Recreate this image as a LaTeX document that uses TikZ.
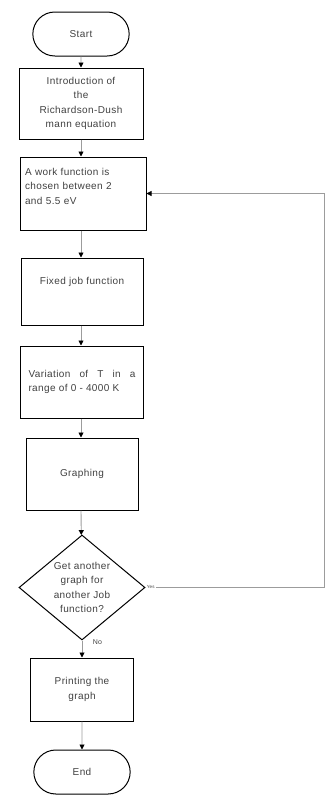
\documentclass[tikz,border=0pt]{standalone}
\usepackage{fontspec}
\setmainfont{Liberation Sans}[LetterSpace=4]
\usetikzlibrary{shapes.misc, positioning}
\usetikzlibrary{shapes.geometric, arrows.meta}
\definecolor{linegray}{HTML}{9c9c9c}
\definecolor{textgray}{HTML}{404040}
\tikzstyle{terminal} = [rounded rectangle, minimum width=103pt, minimum height=44pt, text centered, draw=black, line width=1pt, text=textgray, font=\fontsize{10}{14.5}\selectfont]
\tikzstyle{process} = [rectangle, minimum width=124pt, minimum height=72pt, text centered, draw=black, line width=1pt, align=center, text=textgray, font=\fontsize{10}{14.5}\selectfont]
\tikzstyle{decision} = [diamond, shape aspect=1.2, inner sep=-1.5pt, minimum width=126pt, minimum height=105pt, draw=black, line width=1pt, align=center, text=textgray, font=\fontsize{10}{14.5}\selectfont]
\tikzstyle{arrow} = [draw=linegray, line width=0.9pt, -{Triangle[width=5pt,length=5pt,color=black]}]
\tikzstyle{feedback} = [draw=linegray, line width=0.8pt, -{Triangle[width=5pt,length=5pt,color=black]}]

\begin{document}
\begin{tikzpicture}[x=1pt, y=-1pt, node distance=0pt]
    \useasboundingbox (0,0) rectangle (326,798);

    \node (start) [terminal] at (81,34) {Start};

    \node (intro) [process, below=11pt of start, minimum height=71pt]{Introduction of\\
    the\\
    Richardson-Dush\\
    mann equation};

    \node (work) [process, below=17pt of intro, xshift=2pt, minimum height=73pt, text width=116pt, inner xsep=5pt, align=left]{A work function is\\
    chosen between 2\\
    and 5.5 eV\\
    \mbox{}};

    \node (fixed) [process, below=27pt of work, xshift=-1pt, minimum width=122pt, minimum height=67pt]{Fixed job function\\[6pt]};

    \node (vary) [process, below=20pt of fixed, minimum width=123pt, text width=107pt, align=justify]{Variation of T in a\linebreak
    range of 0 - 4000 K};

    \node (graph) [process, below=19pt of vary, minimum width=112pt]{Graphing};

    \node (dec) [decision, below=24pt of graph]{Get another\\
    graph for\\
    another Job\\
    function?};

    \node (print) [process, below=17pt of dec, minimum width=103pt, minimum height=63pt]{Printing the\\
    graph};

    \node (end) [terminal, below=28pt of print]{End};

    \draw [arrow] (start)--(intro);
    \draw [arrow] (intro)--(intro |- work.north);
    \draw [arrow] (intro |- work.south)--(intro |- fixed.north);
    \draw [arrow] (intro |- fixed.south)--(intro |- vary.north);
    \draw [arrow] (intro |- vary.south)--(intro |- graph.north);
    \draw [arrow] (intro |- graph.south)--(dec);
    \draw [arrow] (dec)--(print) node[pos=0.1, right=7pt, text=textgray, font=\fontsize{7}{8}\selectfont]{No};
    \draw [arrow] (print)--(end);

    \coordinate (back) at ([xshift=179pt]dec.east);
    \draw [feedback] (dec.east) node[anchor=west, fill=white, inner sep=1pt, yshift=1pt, text=textgray, font=\fontsize{4.5}{5}\selectfont]{Yes} -- (back) |- (work.east);

\end{tikzpicture}
\end{document}
